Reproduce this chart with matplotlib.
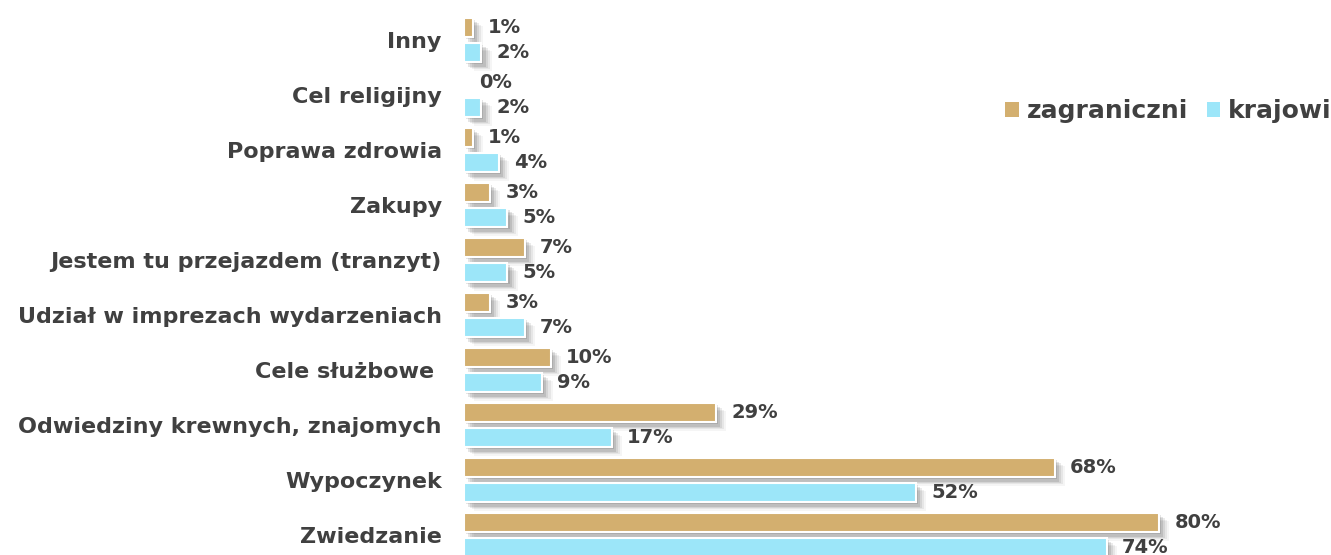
import numpy as np
import matplotlib.pyplot as plt
import matplotlib.patheffects as pe

# =========================
# DATA
# =========================

categories = [
    "Zwiedzanie",
    "Wypoczynek",
    "Odwiedziny krewnych, znajomych",
    "Cele służbowe ",
    "Udział w imprezach wydarzeniach",
    "Jestem tu przejazdem (tranzyt)",
    "Zakupy",
    "Poprawa zdrowia",
    "Cel religijny",
    "Inny",
]
zagraniczni = [80, 68, 29, 10, 3, 7, 3, 1, 0, 1]
krajowi = [74, 52, 17, 9, 7, 5, 5, 4, 2, 2]

COL_ZAG = "#D3AF6F"
COL_KRA = "#9CE6F9"
TXT = "#404040"

plt.rcParams["font.family"] = ["DejaVu Sans"]

# =========================
# PLOT
# =========================

fig = plt.figure(figsize=(13.31, 5.55), dpi=100)
ax = fig.add_axes([464 / 1331, 0, 1 - 464 / 1331, 1])

y = np.arange(len(categories))
h = 0.36
off = 0.227

# soft shadow, faked with a few stacked offset shadows
shadow = [
    pe.SimplePatchShadow(offset=(1.5, -1.5), shadow_rgbFace="black", alpha=0.10),
    pe.SimplePatchShadow(offset=(3, -3), shadow_rgbFace="black", alpha=0.10),
    pe.SimplePatchShadow(offset=(4.5, -4), shadow_rgbFace="black", alpha=0.08),
    pe.SimplePatchShadow(offset=(6, -5), shadow_rgbFace="black", alpha=0.06),
    pe.SimplePatchShadow(offset=(7.5, -6), shadow_rgbFace="black", alpha=0.04),
    pe.Normal(),
]

b1 = ax.barh(y + off, zagraniczni, height=h, color=COL_ZAG, edgecolor="white",
             linewidth=1.5, label="zagraniczni")
b2 = ax.barh(y - off, krajowi, height=h, color=COL_KRA, edgecolor="white",
             linewidth=1.5, label="krajowi")
for bar in list(b1) + list(b2):
    if bar.get_width() > 0:
        bar.set_path_effects(shadow)

for yi, v in zip(y, zagraniczni):
    ax.annotate(f"{v}%", (v, yi + off), xytext=(11, 0), textcoords="offset points",
                va="center", ha="left", fontsize=14, fontweight="bold", color=TXT)
for yi, v in zip(y, krajowi):
    ax.annotate(f"{v}%", (v, yi - off), xytext=(11, 0), textcoords="offset points",
                va="center", ha="left", fontsize=14, fontweight="bold", color=TXT)

ax.set_xlim(0, 99.8)
ax.set_ylim(-0.364, 9.727)
ax.set_yticks(y)
ax.set_yticklabels(categories, fontsize=16, fontweight="bold", color=TXT)
ax.tick_params(axis="y", length=0, pad=16)
ax.set_xticks([])
for s in ax.spines.values():
    s.set_visible(False)

leg = ax.legend(loc="center right", bbox_to_anchor=(1.012, 0.8), ncol=2, frameon=False,
                prop={"weight": "bold", "size": 18}, labelcolor=TXT,
                handlelength=0.55, handleheight=0.55, handletextpad=0.3,
                columnspacing=0.75, borderaxespad=0.0)
for hnd in leg.legend_handles:
    hnd.set_path_effects([])
    hnd.set_edgecolor("none")

fig.savefig("out.png", dpi=100)
